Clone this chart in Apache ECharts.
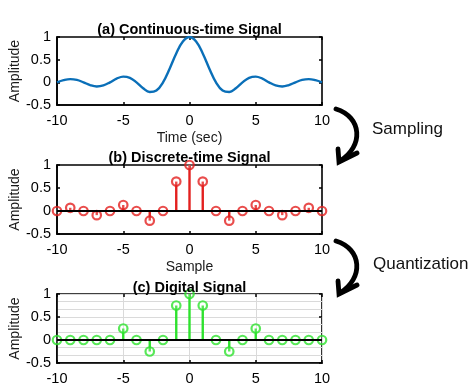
<!DOCTYPE html>
<html>
<head>
<meta charset="utf-8">
<script src="https://cdn.jsdelivr.net/npm/echarts@6/dist/echarts.min.js"></script>
<style>html,body{margin:0;padding:0;background:#fff}#c{width:474px;height:386px}</style>
</head>
<body>
<div id="c"></div>
<script>
// ---- data ----
const timeSec = [-10,-9.5,-9,-8.5,-8,-7.5,-7,-6.5,-6,-5.5,-5,-4.5,-4,-3.5,-3,-2.5,-2,-1.5,-1,-0.5,0,
                 0.5,1,1.5,2,2.5,3,3.5,4,4.5,5,5.5,6,6.5,7,7.5,8,8.5,9,9.5,10];
const contAmp = [0,0.047,0.071,0.053,0,-0.060,-0.091,-0.069,0,0.082,0.127,0.100,0,-0.129,-0.212,-0.180,0,0.300,0.637,0.900,1,
                 0.900,0.637,0.300,0,-0.180,-0.212,-0.129,0,0.100,0.127,0.082,0,-0.069,-0.091,-0.060,0,0.053,0.071,0.047,0];
const sampleIdx = [-10,-9,-8,-7,-6,-5,-4,-3,-2,-1,0,1,2,3,4,5,6,7,8,9,10];
const discAmp = [0,0.07,0,-0.09,0,0.13,0,-0.21,0,0.64,1,0.64,0,-0.21,0,0.13,0,-0.09,0,0.07,0];
const digAmp  = [0,0,0,0,0,0.25,0,-0.25,0,0.75,1,0.75,0,-0.25,0,0.25,0,0,0,0,0];
const xTicks = [-10,-5,0,5,10];
const yTicks = [-0.5,0,0.5,1];
const titles = ['(a) Continuous-time Signal','(b) Discrete-time Signal','(c) Digital Signal'];
const xNames = ['Time (sec)','Sample',''];
const yName = 'Amplitude';
const stepLabels = ['Sampling','Quantization'];

// ---- layout ----
const FONT = '"Liberation Sans", Arial, sans-serif';
const gridTops = [37, 165, 294];
const gridHeights = [68, 69, 69];
const L = 57, W = 265;
const RED = '#e3201f', GREEN = '#2ee22e', BLUE = '#0a6fb8';

const grids = [], xAxes = [], yAxes = [], series = [];
const pair = (xs, ys) => xs.map((x, i) => [x, ys[i]]);

for (let i = 0; i < 3; i++) {
  const withGrid = i === 2;
  grids.push({left: L, width: W, top: gridTops[i], height: gridHeights[i],
    outerBoundsMode: 'none', containLabel: false,
    show: true, borderColor: '#000', borderWidth: 1.6, backgroundColor: 'transparent'});
  const xBase = {type: 'value', gridIndex: i, min: xTicks[0], max: xTicks[xTicks.length-1],
    interval: xTicks[1]-xTicks[0]};
  const yBase = {type: 'value', gridIndex: i, min: yTicks[0], max: yTicks[yTicks.length-1],
    interval: yTicks[1]-yTicks[0]};
  xAxes.push(Object.assign({}, xBase, {position: 'bottom',
    name: xNames[i], nameLocation: 'middle', nameGap: 26, nameMoveOverlap: false,
    nameTextStyle: {color: '#1a1a1a', fontSize: 14, fontFamily: FONT},
    axisLine: {show: true, onZero: false, lineStyle: {color: '#000', width: 1.6}},
    axisTick: {show: true, inside: true, length: 3, lineStyle: {color: '#000', width: 1.5}},
    axisLabel: {color: '#000', fontSize: 14.5, fontFamily: FONT, margin: 8},
    splitLine: {show: withGrid, lineStyle: {color: '#dadada', width: 1}}}));
  xAxes.push(Object.assign({}, xBase, {position: 'top',
    axisLine: {show: false, onZero: false},
    axisTick: {show: true, inside: true, length: 3, lineStyle: {color: '#000', width: 1.5}},
    axisLabel: {show: false}, splitLine: {show: false}}));
  yAxes.push(Object.assign({}, yBase, {position: 'left',
    name: yName, nameLocation: 'middle', nameGap: 35, nameMoveOverlap: false,
    nameTextStyle: {color: '#1a1a1a', fontSize: 14, fontFamily: FONT},
    axisLine: {show: true, onZero: false, lineStyle: {color: '#000', width: 1.6}},
    axisTick: {show: true, inside: true, length: 3, lineStyle: {color: '#000', width: 1.5}},
    axisLabel: {color: '#000', fontSize: 14.5, fontFamily: FONT, margin: 6},
    splitLine: {show: withGrid, lineStyle: {color: '#dadada', width: 1}},
    minorTick: {show: false, splitNumber: 3},
    minorSplitLine: {show: withGrid, lineStyle: {color: '#dadada', width: 1}}}));
  yAxes.push(Object.assign({}, yBase, {position: 'right',
    axisLine: {show: false, onZero: false},
    axisTick: {show: true, inside: true, length: 3, lineStyle: {color: '#000', width: 1.5}},
    axisLabel: {show: false}, splitLine: {show: false}}));
}

series.push({type: 'line', xAxisIndex: 0, yAxisIndex: 0, data: pair(timeSec, contAmp),
  showSymbol: false, smooth: 0.4, lineStyle: {color: BLUE, width: 2.4}, silent: true, animation: false});

function stems(panel, vals, color) {
  series.push({type: 'bar', xAxisIndex: panel*2, yAxisIndex: panel*2, data: pair(sampleIdx, vals),
    barWidth: 2.4, itemStyle: {color: color}, animation: false, silent: true, z: 2,
    markLine: {silent: true, symbol: 'none', label: {show: false}, animation: false,
      lineStyle: {color: '#000', width: 1.8, type: 'solid'}, data: [{yAxis: 0}]}});
  series.push({type: 'scatter', xAxisIndex: panel*2, yAxisIndex: panel*2, data: pair(sampleIdx, vals),
    symbol: 'circle', symbolSize: 8.5, z: 4, animation: false, silent: true,
    itemStyle: {color: 'rgba(255,255,255,0.25)', borderColor: color, borderWidth: 2.2}});
}
stems(1, discAmp, RED);
stems(2, digAmp, GREEN);

const titleY = [29.5, 158, 288];
const graphics = titles.map((t, i) => ({type: 'text', z: 100, style: {text: t, x: L + W/2, y: titleY[i],
  align: 'center', verticalAlign: 'middle', font: 'bold 14.5px ' + FONT, fill: '#000'}}));

function arrow(dy) {
  graphics.push({type: 'bezierCurve', z: 100, shape: {x1: 336, y1: 109 + dy, cpx1: 362, cpy1: 117 + dy,
      cpx2: 364, cpy2: 146 + dy, x2: 340, y2: 161 + dy},
    style: {stroke: '#000', lineWidth: 4.8, fill: null, lineCap: 'round'}});
  graphics.push({type: 'polyline', z: 100, shape: {points: [[338, 149 + dy], [339, 162 + dy], [357, 153 + dy]]},
    style: {stroke: '#000', lineWidth: 4.8, fill: null, lineJoin: 'miter', lineCap: 'round'}});
}
arrow(0);
arrow(132);
graphics.push({type: 'text', z: 100, style: {text: stepLabels[0], x: 372, y: 129, verticalAlign: 'middle',
  font: '17px ' + FONT, fill: '#111'}});
graphics.push({type: 'text', z: 100, style: {text: stepLabels[1], x: 373, y: 264, verticalAlign: 'middle',
  font: '17px ' + FONT, fill: '#111'}});

const chart = echarts.init(document.getElementById('c'), null, {renderer: 'canvas'});
chart.setOption({
  animation: false,
  backgroundColor: '#fff',
  grid: grids, xAxis: xAxes, yAxis: yAxes, series: series, graphic: graphics
});
</script>
</body>
</html>
